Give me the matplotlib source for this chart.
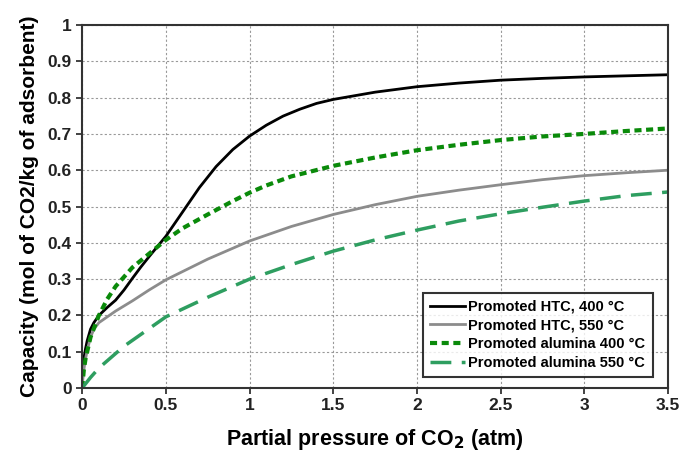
import matplotlib.pyplot as plt

plt.rcParams['font.family'] = ['Liberation Sans', 'DejaVu Sans']
plt.rcParams['font.weight'] = 'bold'

# CO2 partial pressure (atm) and capacity (mol CO2/kg adsorbent)
htc400_p = [0, 0.005, 0.01, 0.02, 0.03, 0.05, 0.07, 0.1, 0.15, 0.2, 0.25, 0.3, 0.35, 0.4, 0.45, 0.5,
            0.6, 0.7, 0.8, 0.9, 1.0, 1.1, 1.2, 1.3, 1.4, 1.5, 1.75, 2.0, 2.25, 2.5, 2.75, 3.0, 3.25, 3.5]
htc400_q = [0, 0.05, 0.08, 0.108, 0.13, 0.162, 0.18, 0.2, 0.222, 0.242, 0.27, 0.302, 0.333, 0.362, 0.39, 0.418,
            0.485, 0.552, 0.61, 0.657, 0.694, 0.724, 0.749, 0.768, 0.784, 0.795, 0.815, 0.83, 0.84, 0.848, 0.853, 0.857, 0.86, 0.863]

htc550_p = [0, 0.005, 0.01, 0.02, 0.03, 0.05, 0.07, 0.1, 0.15, 0.2, 0.3, 0.4, 0.5, 0.75, 1.0, 1.25, 1.5,
            1.75, 2.0, 2.25, 2.5, 2.75, 3.0, 3.25, 3.5]
htc550_q = [0, 0.03, 0.05, 0.08, 0.103, 0.14, 0.162, 0.18, 0.196, 0.212, 0.24, 0.27, 0.298, 0.355, 0.405, 0.445, 0.478,
            0.505, 0.528, 0.545, 0.56, 0.574, 0.585, 0.593, 0.6]

alu400_p = [0, 0.01, 0.02, 0.05, 0.1, 0.15, 0.2, 0.3, 0.4, 0.5, 0.6, 0.75, 0.9, 1.0, 1.1, 1.25, 1.5,
            1.75, 2.0, 2.25, 2.5, 2.75, 3.0, 3.25, 3.5]
alu400_q = [0, 0.05, 0.08, 0.14, 0.2, 0.245, 0.28, 0.332, 0.37, 0.408, 0.44, 0.478, 0.515, 0.538, 0.558, 0.583, 0.612,
            0.635, 0.655, 0.67, 0.683, 0.693, 0.7, 0.708, 0.715]

alu550_p = [0, 0.05, 0.1, 0.25, 0.5, 0.75, 1.0, 1.25, 1.5, 1.75, 2.0, 2.25, 2.5, 2.75, 3.0, 3.25, 3.5]
alu550_q = [0, 0.029, 0.055, 0.115, 0.196, 0.25, 0.3, 0.34, 0.377, 0.408, 0.435, 0.46, 0.48, 0.498, 0.515, 0.53, 0.54]

fig = plt.figure(figsize=(6.79, 4.53), dpi=100)
ax = fig.add_axes([0.121, 0.1435, 0.863, 0.8013])

ax.plot(htc400_p, htc400_q, color='black', lw=2, label='Promoted HTC, 400 °C')
ax.plot(htc550_p, htc550_q, color='#8c8c8c', lw=2, label='Promoted HTC, 550 °C')
ax.plot(alu400_p, alu400_q, color='#0a8a0a', lw=3, linestyle=(0, (1.7, 1.1)), label='Promoted alumina 400 °C')
ax.plot(alu550_p, alu550_q, color='#2e9e60', lw=2.5, linestyle=(0, (6, 3)), label='Promoted alumina 550 °C')

ax.set_xlim(0, 3.5)
ax.set_ylim(0, 1)
ax.set_xticks([0, 0.5, 1, 1.5, 2, 2.5, 3, 3.5])
ax.set_xticklabels(['0', '0.5', '1', '1.5', '2', '2.5', '3', '3.5'])
ax.set_yticks([0, 0.1, 0.2, 0.3, 0.4, 0.5, 0.6, 0.7, 0.8, 0.9, 1.0])
ax.set_yticklabels(['0', '0.1', '0.2', '0.3', '0.4', '0.5', '0.6', '0.7', '0.8', '0.9', '1'])
ax.tick_params(labelsize=12.5, direction='out', length=4, width=1.2, colors='#222222')
ax.grid(True, color='#999999', linestyle=(0, (2, 2)), lw=0.8)
for s in ax.spines.values():
    s.set_linewidth(1.5)
    s.set_color('#333333')

ax.set_xlabel('Partial pressure of CO$_\\mathbf{2}$ (atm)', fontsize=15.5, fontweight='bold', labelpad=10)
ax.set_ylabel('Capacity (mol of CO2/kg of adsorbent)', fontsize=15, fontweight='bold', labelpad=6)

leg = ax.legend(loc='lower right', bbox_to_anchor=(0.974, 0.03), fontsize=10.5, frameon=True,
                fancybox=False, edgecolor='black', handlelength=2.4, handletextpad=0.25,
                borderpad=0.5, labelspacing=0.32, borderaxespad=0)
leg.get_frame().set_linewidth(1.5)
for t in leg.get_texts():
    t.set_fontweight('bold')

fig.savefig('out.png', dpi=100)
